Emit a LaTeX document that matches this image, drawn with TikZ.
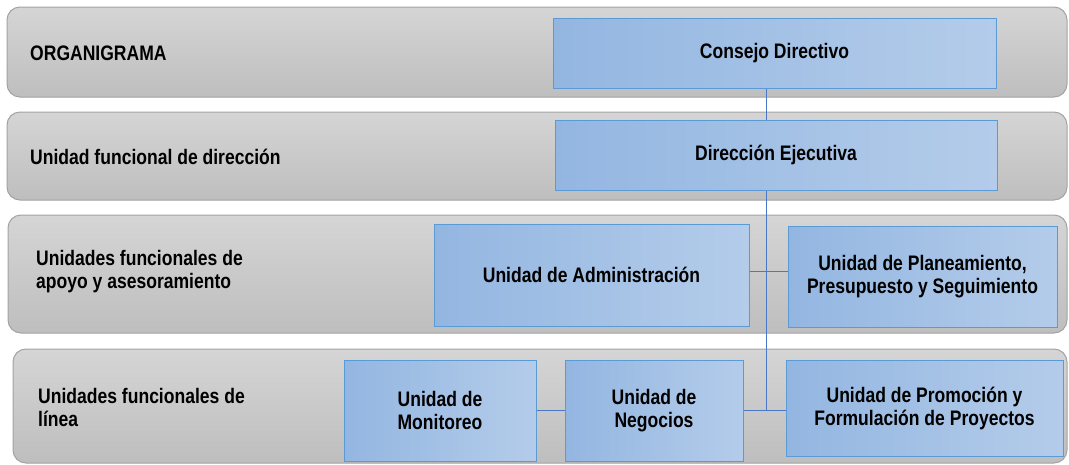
\documentclass[tikz,border=0pt]{standalone}
\usepackage{fontspec}
\setmainfont[FakeStretch=0.835]{Liberation Sans}
\definecolor{bandtop}{HTML}{D5D5D5}
\definecolor{bandbot}{HTML}{BEBEBE}
\definecolor{bandline}{HTML}{A3A3A3}
\definecolor{boxleft}{HTML}{93B6E1}
\definecolor{boxright}{HTML}{B4CCEA}
\definecolor{boxline}{HTML}{5B9BD5}
\definecolor{conn}{HTML}{4A77C7}
\tikzset{
  band/.style={draw=bandline, line width=1pt, rounded corners=13pt, top color=bandtop, bottom color=bandbot, rectangle, inner sep=0pt},
  unitbox/.style={draw=boxline, line width=1pt, left color=boxleft, right color=boxright, rectangle, inner sep=0pt, align=center, font=\bfseries\fontsize{21}{23}\selectfont},
  bandlabel/.style={anchor=west, align=left, inner sep=0pt, font=\bfseries\fontsize{21}{23}\selectfont},
  link/.style={draw=conn, line width=1pt}
}
\begin{document}
\begin{tikzpicture}[x=1pt,y=-1pt]
\useasboundingbox[fill=white] (0,0) rectangle (1069,464);
% bands
\node[band, minimum width=1060pt, minimum height=90pt] (b1) at (537,52) {};
\node[band, minimum width=1060pt, minimum height=88pt] (b2) at (537,156) {};
\node[band, minimum width=1059pt, minimum height=118pt] (b3) at (537.5,274) {};
\node[band, minimum width=1054pt, minimum height=114pt] (b4) at (540,406) {};
% band labels
\node[bandlabel] (l1) at (30,53) {ORGANIGRAMA};
\node[bandlabel] (l2) at (30,157) {Unidad funcional de dirección};
\node[bandlabel] (l3) at (36,272) {Unidades funcionales de\\apoyo y asesoramiento};
\node[bandlabel] (l4) at (38,407) {Unidades funcionales de\\línea};
% units
\node[unitbox, minimum width=443pt, minimum height=70pt] (cd) at (774.5,53) {Consejo Directivo};
\node[unitbox, minimum width=442pt, minimum height=70pt] (de) at (776,155) {Dirección Ejecutiva};
\node[unitbox, minimum width=315pt, minimum height=102pt] (ad) at (591.5,275) {Unidad de Administración};
\node[unitbox, minimum width=269pt, minimum height=101pt] (pl) at (922.5,276.5) {Unidad de Planeamiento,\\Presupuesto y Seguimiento};
\node[unitbox, minimum width=192pt, minimum height=101pt] (mo) at (440,410.5) {Unidad de\\Monitoreo};
\node[unitbox, minimum width=178pt, minimum height=101pt] (ng) at (654,410.5) {Unidad de\\Negocios};
\node[unitbox, minimum width=277pt, minimum height=96pt] (pr) at (924.5,408) {Unidad de Promoción y\\Formulación de Proyectos};
% junctions
\coordinate (sp) at (766,0);
\coordinate (j1) at (766,271);
\coordinate (j2) at (766,410);
% connectors
\draw[link] (cd.south -| sp) -- (de.north -| sp);
\draw[link] (de.south -| sp) -- (j2);
\draw[link] (ad.east |- j1) -- (pl.west |- j1);
\draw[link] (ng.east |- j2) -- (pr.west |- j2);
\draw[link] (mo.east |- j2) -- (ng.west |- j2);
\end{tikzpicture}
\end{document}
